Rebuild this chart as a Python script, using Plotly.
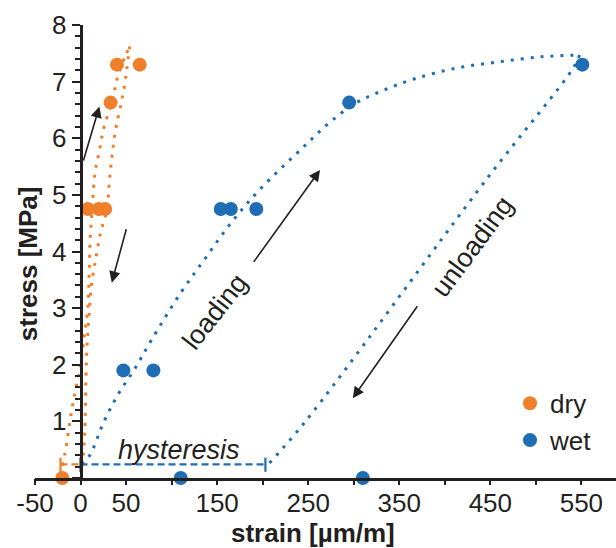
import plotly.graph_objects as go

# ---- measured points ----
dry_strain = [-20, 8, 20, 27, 33, 40, 65]
dry_stress = [0, 4.75, 4.75, 4.75, 6.63, 7.3, 7.3]

wet_strain = [110, 310, 47, 80, 154, 165, 193, 295, 551]
wet_stress = [0, 0, 1.9, 1.9, 4.75, 4.75, 4.75, 6.63, 7.3]

# ---- fitted trend curves (dotted) ----
dry_load_x = [-20, -17, -10, -5, -0.5, 4, 8, 9.5, 10.5, 13, 16, 21, 25, 32.5, 38, 41, 49, 54]
dry_load_y = [0.22, 0.44, 1.17, 1.59, 1.94, 2.5, 3.0, 3.6, 4.2, 4.8, 5.4, 5.8, 6.15, 6.55, 6.9, 7.1, 7.45, 7.62]
dry_unload_x = [2, 4, 5, 6, 7, 9, 12, 17, 22, 29, 32, 38, 45, 49, 51, 54]
dry_unload_y = [0.22, 0.6, 1.0, 1.8, 2.3, 2.8, 3.4, 3.9, 4.33, 4.75, 5.3, 6.1, 6.65, 7.0, 7.25, 7.62]

wet_load_x = [1, 10, 25, 41, 60, 78, 110, 137, 165, 196, 247, 273, 302, 333, 367, 413, 460, 507, 548]
wet_load_y = [0.25, 0.4, 0.97, 1.47, 1.94, 2.44, 3.27, 3.88, 4.5, 5.08, 5.88, 6.27, 6.62, 6.85, 7.05, 7.24, 7.35, 7.44, 7.47]
wet_unload_x = [548, 541, 446, 247, 205]
wet_unload_y = [7.47, 7.24, 5.28, 1.0, 0.22]

# ---- hysteresis spans (start, end) at residual level ----
hyst_level = 0.24
dry_hyst = [-22, 0]
wet_hyst = [0, 203]

# ---- axes ----
x_range = [-50, 588]
y_range = [0, 8]
x_ticks = list(range(-50, 551, 50))
x_ticklabels = ['-50', '0', '50', '', '150', '', '250', '', '350', '', '450', '', '550']
y_ticks = list(range(0, 9))
y_ticklabels = [''] + [str(v) for v in range(1, 9)]

ORANGE = '#F07F2C'
BLUE = '#1E6DB5'
INK = '#231F20'
FONT = 'Liberation Sans, Arial, sans-serif'
FS = 26

fig = go.Figure()

dotted = '3px,7px'
for xs, ys, col in [(dry_load_x, dry_load_y, ORANGE), (dry_unload_x, dry_unload_y, ORANGE),
                    (wet_load_x, wet_load_y, BLUE), (wet_unload_x, wet_unload_y, BLUE)]:
    fig.add_trace(go.Scatter(x=xs, y=ys, mode='lines', showlegend=False, hoverinfo='skip',
                             line=dict(color=col, width=3, dash=dotted, shape='spline', smoothing=1.0),
                             cliponaxis=False))

# hysteresis spans with end caps (drawn on the tick-mark overlay axis, which mirrors x)
for span, col in [(dry_hyst, ORANGE), (wet_hyst, BLUE)]:
    fig.add_trace(go.Scatter(x=span, y=[hyst_level, hyst_level], mode='lines', showlegend=False,
                             hoverinfo='skip', line=dict(color=col, width=2.2, dash='7px,4px'),
                             cliponaxis=False, xaxis='x2'))
    for xe in span:
        fig.add_trace(go.Scatter(x=[xe, xe], y=[hyst_level - 0.13, hyst_level + 0.12], mode='lines',
                                 showlegend=False, hoverinfo='skip',
                                 line=dict(color=col, width=2.2), cliponaxis=False, xaxis='x2'))

fig.add_trace(go.Scatter(x=dry_strain, y=dry_stress, mode='markers', name='dry',
                         marker=dict(color=ORANGE, size=14), cliponaxis=False))
fig.add_trace(go.Scatter(x=wet_strain, y=wet_stress, mode='markers', name='wet',
                         marker=dict(color=BLUE, size=14), cliponaxis=False))

# direction arrows: (head_x, head_y, tail_x, tail_y)
arrows = [
    (20.7, 6.56, 2.7, 5.58),
    (34.3, 3.45, 50.7, 4.42),
    (263, 5.44, 189, 3.79),
    (299, 1.41, 371, 3.06),
]
for hx, hy, tx, ty in arrows:
    fig.add_annotation(x=hx, y=hy, ax=tx, ay=ty, xref='x', yref='y', axref='x', ayref='y',
                       text='', showarrow=True, arrowhead=2, arrowsize=1.4, arrowwidth=1.6,
                       arrowcolor=INK)

fig.add_annotation(x=147, y=2.94, text='loading', showarrow=False, textangle=-52,
                   xanchor='center', yanchor='middle',
                   font=dict(family=FONT, size=27, color=INK))
fig.add_annotation(x=430, y=4.08, text='unloading', showarrow=False, textangle=-53.5,
                   xanchor='center', yanchor='middle',
                   font=dict(family=FONT, size=27, color=INK))
fig.add_annotation(x=108, y=0.5, text='<i>hysteresis</i>', showarrow=False,
                   xanchor='center', yanchor='middle',
                   font=dict(family=FONT, size=27, color=INK))

# axis titles
fig.add_annotation(xref='paper', yref='paper', x=-0.012, y=0.472, text='<b>stress [MPa]</b>',
                   showarrow=False, textangle=-90, xanchor='center', yanchor='middle',
                   font=dict(family=FONT, size=FS, color=INK))
fig.add_annotation(xref='paper', yref='paper', x=0.4785, y=-0.1215, text='<b>strain [µm/m]</b>',
                   showarrow=False, xanchor='center', yanchor='middle',
                   font=dict(family=FONT, size=FS, color=INK))

y_pos = (0 - x_range[0]) / (x_range[1] - x_range[0])

fig.update_layout(
    width=616, height=548,
    margin=dict(l=35, r=0, t=25, b=70),
    paper_bgcolor='white', plot_bgcolor='white',
    font=dict(family=FONT, color=INK),
    # labelled axis (tick marks are supplied by the overlay axis below)
    xaxis=dict(range=x_range, tickmode='array', tickvals=x_ticks, ticktext=x_ticklabels,
               showline=True, linecolor=INK, linewidth=2.5, ticks='',
               showgrid=False, zeroline=False,
               tickfont=dict(family=FONT, size=FS, color=INK)),
    xaxis2=dict(matches='x', overlaying='x', anchor='y', side='bottom',
                tickmode='array', tickvals=x_ticks, showticklabels=False,
                ticks='outside', ticklen=6, tickwidth=2, tickcolor=INK,
                showline=False, showgrid=False, zeroline=False),
    yaxis=dict(range=y_range, anchor='free', position=y_pos, tickmode='array', tickvals=y_ticks,
               ticktext=y_ticklabels, showline=True, linecolor=INK, linewidth=2.5,
               ticks='outside', ticklen=8, tickwidth=2, tickcolor=INK, showgrid=False,
               zeroline=False, tickfont=dict(family=FONT, size=FS, color=INK),
               minor=dict(tickmode='linear', tick0=0, dtick=0.2, ticks='outside', ticklen=5,
                          tickwidth=2, tickcolor=INK, showgrid=False)),
    legend=dict(x=0.8176, y=0.2166, xanchor='left', yanchor='top', bgcolor='rgba(0,0,0,0)',
                font=dict(family=FONT, size=FS, color=INK)),
    showlegend=True,
)

fig.write_html('out.html')
